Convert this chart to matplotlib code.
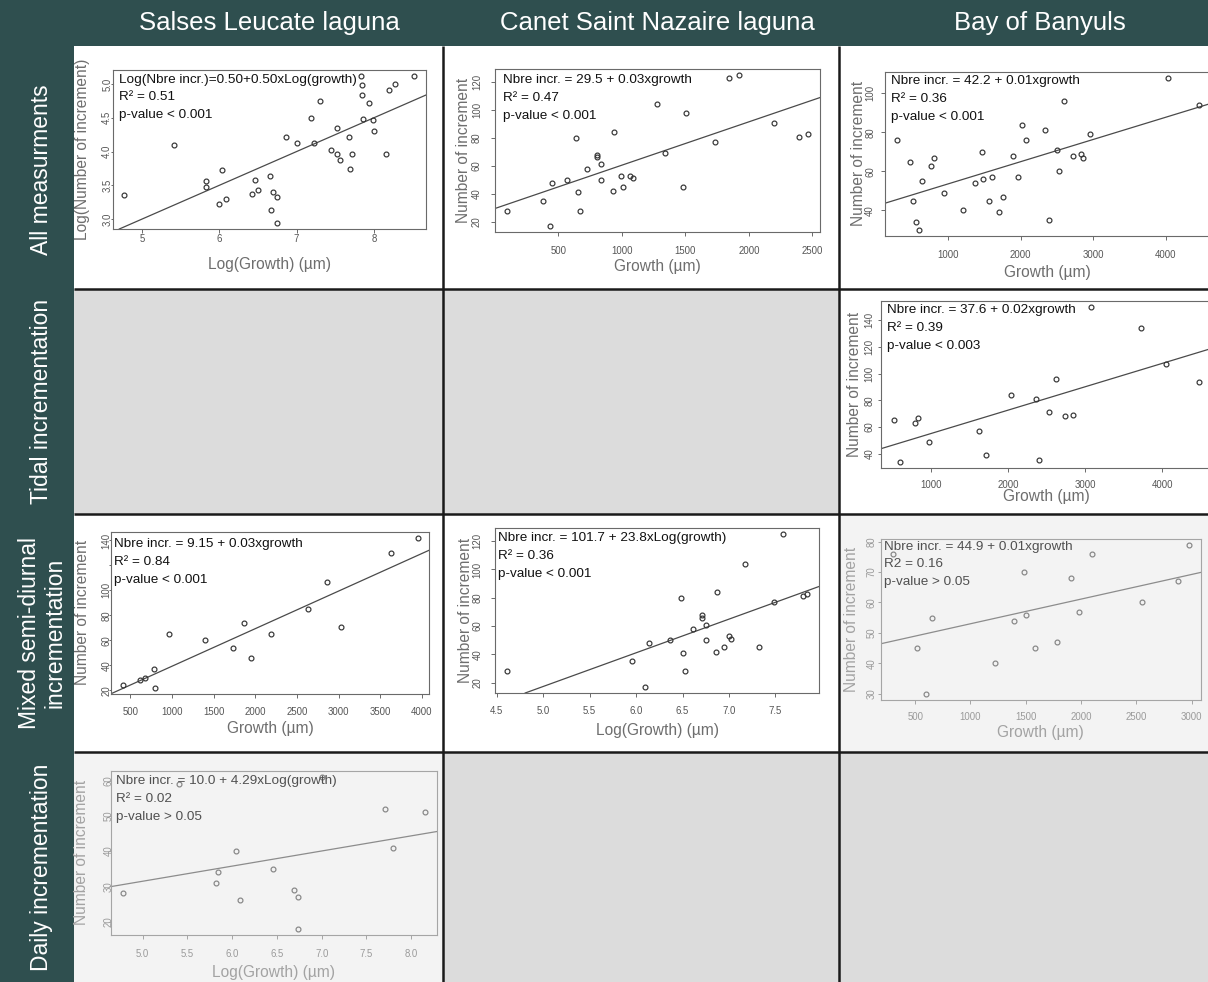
import numpy as np
import matplotlib
matplotlib.use("Agg")
import matplotlib.pyplot as plt
from matplotlib.patches import Rectangle
from matplotlib.transforms import offset_copy

plt.rcParams['font.family'] = ['Liberation Sans', 'DejaVu Sans']

# ---------------- data ----------------
site_names = ["Salses Leucate laguna", "Canet Saint Nazaire laguna", "Bay of Banyuls"]
row_names = ["All measurments", "Tidal incrementation",
             "Mixed semi-diurnal\nincrementation", "Daily incrementation"]

# Salses Leucate, all measurements (log growth vs log number of increments)
sl_all_x = [4.77, 5.41, 5.83, 5.83, 6.00, 6.04, 6.09, 6.42, 6.46, 6.50,
            6.66, 6.67, 6.70, 6.74, 6.75, 6.86, 7.00, 7.19, 7.22, 7.30,
            7.44, 7.52, 7.52, 7.56, 7.68, 7.72, 7.69, 7.83, 7.84, 7.85,
            7.86, 7.94, 7.99, 8.00, 8.16, 8.19, 8.27, 8.52]
sl_all_y = [3.36, 4.10, 3.56, 3.47, 3.22, 3.72, 3.30, 3.37, 3.58, 3.43,
            3.64, 3.13, 3.40, 3.33, 2.94, 4.21, 4.13, 4.49, 4.13, 4.75,
            4.03, 4.35, 3.97, 3.87, 4.21, 3.97, 3.74, 5.12, 4.99, 4.84,
            4.48, 4.72, 4.47, 4.31, 3.96, 4.91, 5.00, 5.12]
sl_all_fit = (0.50, 0.50)
sl_all_eq = ["Log(Nbre incr.)=0.50+0.50xLog(growth)", "R\u00b2 = 0.51", "p-value < 0.001"]

# Canet Saint Nazaire, all measurements
cn_all_x = [95, 376, 453, 434, 566, 637, 653, 671, 724, 800, 805, 837, 837, 926, 939,
            989, 1011, 1066, 1089, 1276, 1342, 1484, 1503, 1737, 1845, 1921, 2195,
            2392, 2466]
cn_all_y = [28, 35, 48, 17, 50, 80, 41, 28, 58, 68, 66, 61, 50, 42, 84,
            53, 45, 53, 51, 104, 69, 45, 98, 77, 123, 125, 91, 81, 83]
cn_all_fit = (29.5, 0.031)
cn_all_eq = ["Nbre incr. = 29.5 + 0.03xgrowth", "R\u00b2 = 0.47", "p-value < 0.001"]

# Bay of Banyuls, all measurements
by_all_x = [293, 481, 513, 564, 596, 646, 761, 802, 949, 1211, 1377, 1473, 1487, 1602,
            1565, 1694, 1758, 1887, 1960, 2015, 2079, 2341, 2383, 2502, 2525, 2599,
            2713, 2824, 2856, 2948, 4032, 4454]
by_all_y = [76, 65, 45, 34, 30, 55, 63, 67, 49, 40, 54, 70, 56, 57, 45, 39, 47, 68, 57,
            84, 76, 81, 35, 71, 60, 96, 68, 69, 67, 79, 108, 94]
by_all_fit = (42.2, 0.0114)
by_all_eq = ["Nbre incr. = 42.2 + 0.01xgrowth", "R\u00b2 = 0.36", "p-value < 0.001"]

# Bay of Banyuls, tidal incrementation
by_tid_x = [507, 590, 782, 821, 969, 1624, 1712, 2039, 2362, 2402, 2524, 2620, 2734,
            2838, 3079, 3729, 4052, 4476]
by_tid_y = [65, 34, 63, 67, 49, 57, 39, 84, 81, 35, 71, 96, 68, 69, 150, 134, 107, 94]
by_tid_fit = (37.6, 0.0175)
by_tid_eq = ["Nbre incr. = 37.6 + 0.02xgrowth", "R\u00b2 = 0.39", "p-value < 0.003"]

# Salses Leucate, mixed semi-diurnal incrementation
sl_mix_x = [408, 620, 672, 787, 795, 967, 1390, 1737, 1869, 1949, 2192, 2631, 2866,
            3026, 3628, 3948]
sl_mix_y = [24, 28, 30, 37, 22, 65, 60, 54, 74, 46, 65, 85, 107, 71, 130, 142]
sl_mix_fit = (9.15, 0.0301)
sl_mix_eq = ["Nbre incr. = 9.15 + 0.03xgrowth", "R\u00b2 = 0.84", "p-value < 0.001"]

# Canet Saint Nazaire, mixed semi-diurnal incrementation (log growth)
cn_mix_x = [4.61, 5.96, 6.10, 6.14, 6.37, 6.48, 6.51, 6.53, 6.61, 6.71, 6.71, 6.75,
            6.75, 6.86, 6.87, 6.95, 7.00, 7.02, 7.17, 7.32, 7.48, 7.58, 7.80, 7.84]
cn_mix_y = [28, 35, 17, 48, 50, 80, 41, 28, 58, 68, 66, 61, 50, 42, 84, 45, 53, 51,
            104, 45, 77, 125, 81, 83]
cn_mix_fit = (-101.7, 23.8)
cn_mix_eq = ["Nbre incr. = 101.7 + 23.8xLog(growth)", "R\u00b2 = 0.36", "p-value < 0.001"]

# Bay of Banyuls, mixed semi-diurnal incrementation
by_mix_x = [295, 515, 597, 654, 1221, 1393, 1486, 1501, 1580, 1779, 1908, 1978, 2101,
            2551, 2879, 2976]
by_mix_y = [76, 45, 30, 55, 40, 54, 70, 56, 45, 47, 68, 57, 76, 60, 67, 79]
by_mix_fit = (44.9, 0.0081)
by_mix_eq = ["Nbre incr. = 44.9 + 0.01xgrowth", "R2 = 0.16", "p-value > 0.05"]

# Salses Leucate, daily incrementation (log growth)
sl_day_x = [4.78, 5.40, 5.82, 5.84, 6.04, 6.09, 6.45, 6.69, 6.73, 6.74, 7.00, 7.71,
            7.80, 8.15]
sl_day_y = [28, 59, 31, 34, 40, 26, 35, 29, 27, 18, 61, 52, 41, 51]
sl_day_fit = (10.0, 4.29)
sl_day_eq = ["Nbre incr. = 10.0 + 4.29xLog(growth)", "R\u00b2 = 0.02", "p-value > 0.05"]

LOGX = "Log(Growth) (\u00b5m)"
LINX = "Growth (\u00b5m)"
NUMY = "Number of increment"

# ---------------- figure & grid ----------------
W, H = 1208, 982
fig = plt.figure(figsize=(W / 100, H / 100), dpi=100)
fig.patch.set_facecolor('#2f4f4f')

bg = fig.add_axes([0, 0, 1, 1])
bg.set_xlim(0, W)
bg.set_ylim(H, 0)
bg.axis('off')

col_edges = [74, 443, 839, W]
row_edges = [46, 289, 514, 752, H]
WHITE, EMPTY, PALE = 'white', '#dcdcdc', '#f3f3f3'
cell_fill = [[WHITE, WHITE, WHITE],
             [EMPTY, EMPTY, WHITE],
             [WHITE, WHITE, PALE],
             [PALE, EMPTY, EMPTY]]
for r in range(4):
    for c in range(3):
        bg.add_patch(Rectangle((col_edges[c], row_edges[r]),
                               col_edges[c + 1] - col_edges[c],
                               row_edges[r + 1] - row_edges[r],
                               facecolor=cell_fill[r][c], edgecolor='none'))
for xv in col_edges[1:-1]:
    bg.plot([xv, xv], [row_edges[0], H], color='#1a1a1a', lw=1.8, solid_capstyle='butt')
for yv in row_edges[1:-1]:
    bg.plot([col_edges[0], W], [yv, yv], color='#1a1a1a', lw=1.8, solid_capstyle='butt')

header_x = [269, 657, 1040]
for name, cx in zip(site_names, header_x):
    fig.text(cx / W, 1 - 23 / H, name, color='white', fontsize=18.5,
             ha='center', va='center')
row_centers = [170, 401.5, 633, 867]
for name, cy in zip(row_names, row_centers):
    fig.text(42 / W, 1 - cy / H, name, color='white', fontsize=16.5, rotation=90,
             ha='center', va='center', linespacing=1.15, multialignment='center')

NORMAL = dict(face='white', pt='#333333', line='#4a4a4a', spine='#6a6a6a',
              tick='#555555', label='#6e6e6e', text='#111111')
FADED = dict(face=PALE, pt='#858585', line='#8c8c8c', spine='#a5a5a5',
             tick='#9a9a9a', label='#a3a3a3', text='#505050')

PX = 0.72  # points per pixel


def draw_panel(box, x, y, fit, eq, xticks, xtl, yticks, ytl, xlabel, ylabel,
               faded=False, xt_d=19, xl_d=35, yt_d=18, yl_d=29, txt=(6, 10),
               ylen=4):
    x0, y0, x1, y1 = box
    w, h = x1 - x0, y1 - y0
    pal = FADED if faded else NORMAL
    ax = fig.add_axes([x0 / W, 1 - y1 / H, w / W, h / H])
    ax.set_facecolor(pal['face'])
    x = np.asarray(x, float)
    y = np.asarray(y, float)
    ax.plot(x, y, 'o', ms=3.5, mfc='none', mec=pal['pt'], mew=0.85, zorder=3)
    dxr = x.max() - x.min()
    dyr = y.max() - y.min()
    ax.set_xlim(x.min() - 0.04 * dxr, x.max() + 0.04 * dxr)
    ax.set_ylim(y.min() - 0.04 * dyr, y.max() + 0.04 * dyr)
    b0, b1 = fit
    ax.axline((0, b0), slope=b1, color=pal['line'], lw=0.9, zorder=2)

    ax.set_xticks(xticks, xtl)
    ax.set_yticks(yticks, ytl)
    lx = 4
    ax.tick_params(axis='x', length=lx * PX, width=0.7, color=pal['spine'],
                   labelsize=6.9, labelcolor=pal['tick'], pad=(xt_d - lx - 5.5) * PX)
    ax.tick_params(axis='y', length=ylen * PX, width=0.7, color=pal['spine'],
                   labelsize=6.9, labelcolor=pal['tick'], labelrotation=90,
                   pad=(yt_d - ylen - 5.5) * PX)
    for lab in ax.get_yticklabels():
        lab.set_va('center')
    for s in ax.spines.values():
        s.set_color(pal['spine'])
        s.set_linewidth(0.8)

    ax.set_xlabel(xlabel, fontsize=11.2, color=pal['label'], va='center')
    ax.xaxis.set_label_coords(0.5, -xl_d / h)
    ax.set_ylabel(ylabel, fontsize=11.2, color=pal['label'], va='center')
    ax.yaxis.set_label_coords(-yl_d / w, 0.5)

    tx, ty = txt
    for i, s in enumerate(eq):
        tr = offset_copy(ax.transAxes, fig=fig, x=tx, y=-(ty + 17.8 * i), units='dots')
        ax.text(0, 1, s, transform=tr, ha='left', va='center', fontsize=9.7,
                color=pal['text'], zorder=4)
    return ax


lin_500 = [500, 1000, 1500, 2000, 2500]
draw_panel((112.7, 70, 425.7, 229), sl_all_x, sl_all_y, sl_all_fit, sl_all_eq,
           [5, 6, 7, 8], ['5', '6', '7', '8'],
           [3.0, 3.5, 4.0, 4.5, 5.0], ['3.0', '3.5', '4.0', '4.5', '5.0'],
           LOGX, "Log(Number of increment)",
           xt_d=10.5, xl_d=36, yt_d=6, yl_d=30.4, txt=(6.6, 9.5), ylen=2)
draw_panel((495, 69, 820, 232), cn_all_x, cn_all_y, cn_all_fit, cn_all_eq,
           lin_500, [str(v) for v in lin_500],
           [20, 40, 60, 80, 100, 120], ['20', '40', '60', '80', '100', '120'],
           LINX, NUMY, xt_d=19, xl_d=34, yt_d=18.5, yl_d=31, txt=(8.3, 11))
draw_panel((884.7, 71.7, 1211, 236), by_all_x, by_all_y, by_all_fit, by_all_eq,
           [1000, 2000, 3000, 4000], ['1000', '2000', '3000', '4000'],
           [40, 60, 80, 100], ['40', '60', '80', '100'],
           LINX, NUMY, xt_d=20, xl_d=36.7, yt_d=15, yl_d=26, txt=(6.6, 9.3))
draw_panel((881.3, 300.7, 1211, 467.7), by_tid_x, by_tid_y, by_tid_fit, by_tid_eq,
           [1000, 2000, 3000, 4000], ['1000', '2000', '3000', '4000'],
           [40, 60, 80, 100, 120, 140], ['40', '60', '80', '100', '120', '140'],
           LINX, NUMY, xt_d=18.3, xl_d=29, yt_d=12, yl_d=26.6, txt=(6, 9.3), ylen=3)
draw_panel((111, 532, 429.3, 693.7), sl_mix_x, sl_mix_y, sl_mix_fit, sl_mix_eq,
           [500, 1000, 1500, 2000, 2500, 3000, 3500, 4000],
           ['500', '1000', '1500', '2000', '2500', '3000', '3500', '4000'],
           [20, 40, 60, 80, 100, 120, 140], ['20', '40', '60', '80', '100', '', '140'],
           LINX, NUMY, xt_d=18.3, xl_d=35, yt_d=5, yl_d=28.7, txt=(3.3, 12.5), ylen=2)
draw_panel((495, 528, 819, 693), cn_mix_x, cn_mix_y, cn_mix_fit, cn_mix_eq,
           [4.5, 5.0, 5.5, 6.0, 6.5, 7.0, 7.5],
           ['4.5', '5.0', '5.5', '6.0', '6.5', '7.0', '7.5'],
           [20, 40, 60, 80, 100, 120], ['20', '40', '60', '80', '100', '120'],
           LOGX, NUMY, xt_d=18.3, xl_d=37.3, yt_d=17.7, yl_d=29, txt=(2.7, 10))
draw_panel((880.7, 538.7, 1200.7, 699.7), by_mix_x, by_mix_y, by_mix_fit, by_mix_eq,
           [500, 1000, 1500, 2000, 2500, 3000],
           ['500', '1000', '1500', '2000', '2500', '3000'],
           [30, 40, 50, 60, 70, 80], ['30', '40', '50', '60', '70', '80'],
           LINX, NUMY, faded=True, xt_d=18.3, xl_d=32.3, yt_d=9.4, yl_d=29.4,
           txt=(3, 7.8), ylen=3)
draw_panel((111, 771, 436.7, 934.7), sl_day_x, sl_day_y, sl_day_fit, sl_day_eq,
           [5.0, 5.5, 6.0, 6.5, 7.0, 7.5, 8.0],
           ['5.0', '5.5', '6.0', '6.5', '7.0', '7.5', '8.0'],
           [20, 30, 40, 50, 60], ['20', '30', '40', '50', '60'],
           LOGX, NUMY, faded=True, xt_d=19.6, xl_d=37.3, yt_d=3, yl_d=29.3,
           txt=(4.7, 10), ylen=2)

fig.savefig("out.png", dpi=100, facecolor=fig.get_facecolor())
